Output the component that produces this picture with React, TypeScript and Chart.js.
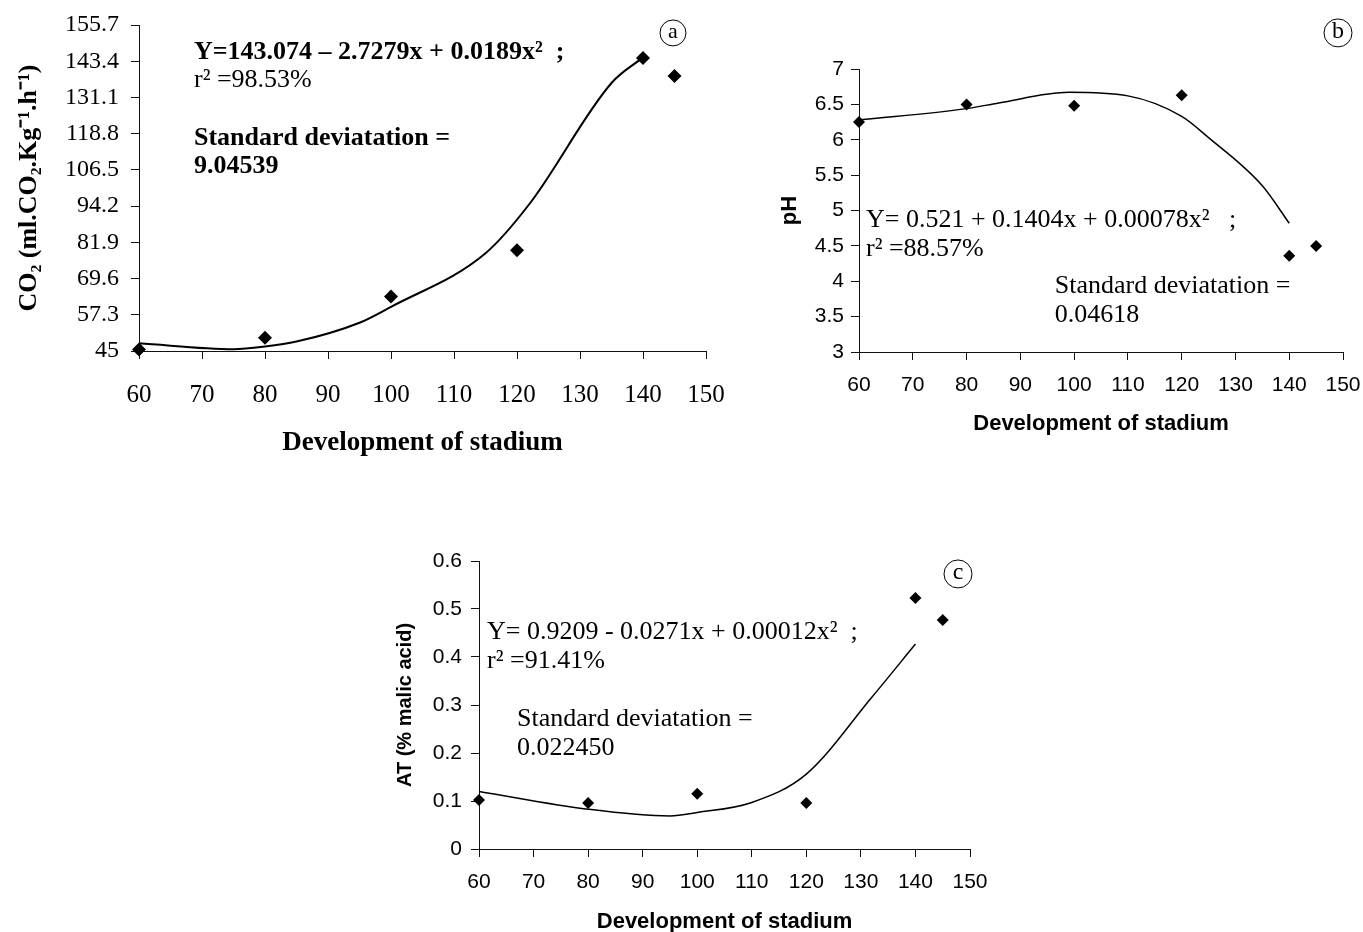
import React, { useEffect, useRef } from 'react';
import { Chart, registerables } from 'chart.js';

Chart.register(...registerables);

// ---------- data ----------
const stages = [60, 80, 100, 120, 140, 145];
const xTickValues = [60, 70, 80, 90, 100, 110, 120, 130, 140, 150];

// (a) CO2
const co2Values = [45.5, 49.5, 63.5, 79.2, 144.5, 138.4];
const co2CurveX = [60, 75, 80, 85, 95, 100, 115, 122, 135, 140];
const co2CurveY = [47.6, 45.6, 46.5, 48.2, 54.6, 60.0, 78.2, 95.0, 136.0, 144.7];
const co2Ticks = [45, 57.3, 69.6, 81.9, 94.2, 106.5, 118.8, 131.1, 143.4, 155.7];
const co2TickLabels = ['45', '57.3', '69.6', '81.9', '94.2', '106.5', '118.8', '131.1', '143.4', '155.7'];

// (b) pH
const phValues = [6.25, 6.5, 6.48, 6.63, 4.36, 4.5];
const phCurveX = [60, 80, 86, 99, 110, 120, 125, 135, 140];
const phCurveY = [6.28, 6.44, 6.52, 6.67, 6.62, 6.33, 6.03, 5.35, 4.82];
const phTicks = [3, 3.5, 4, 4.5, 5, 5.5, 6, 6.5, 7];
const phTickLabels = ['3', '3.5', '4', '4.5', '5', '5.5', '6', '6.5', '7'];

// (c) AT
const atValues = [0.102, 0.096, 0.115, 0.096, 0.523, 0.477];
const atCurveX = [60, 80, 95, 100, 110, 120, 132, 140];
const atCurveY = [0.12, 0.083, 0.069, 0.076, 0.097, 0.156, 0.316, 0.427];
const atTicks = [0, 0.1, 0.2, 0.3, 0.4, 0.5, 0.6];
const atTickLabels = ['0', '0.1', '0.2', '0.3', '0.4', '0.5', '0.6'];

const xTitle = 'Development of stadium';

// ---------- notes plugin ----------
const notesPlugin = {
  id: 'notes',
  afterDraw(chart: any, _args: any, opts: any) {
    const { ctx, scales } = chart;
    const xs = scales.x;
    const ys = scales.y;
    ctx.save();
    ctx.fillStyle = '#000';
    ctx.textAlign = 'left';
    ctx.textBaseline = 'middle';
    for (const n of opts.items || []) {
      ctx.font = n.font;
      ctx.fillText(n.text, xs.getPixelForValue(n.x), ys.getPixelForValue(n.y));
    }
    if (opts.badge) {
      const b = opts.badge;
      const cx = xs.getPixelForValue(b.x);
      const cy = ys.getPixelForValue(b.y);
      ctx.beginPath();
      ctx.arc(cx, cy, b.r, 0, Math.PI * 2);
      ctx.lineWidth = 1;
      ctx.strokeStyle = '#000';
      ctx.stroke();
      ctx.font = b.font;
      ctx.textAlign = 'center';
      ctx.textBaseline = 'middle';
      ctx.fillText(b.text, cx, cy - 1);
    }
    ctx.restore();
  },
};

type Spec = {
  values: number[];
  curveX: number[];
  curveY: number[];
  yTicks: number[];
  yLabels: string[];
  yTitle: string;
  yAxisWidth: number;
  xAxisHeight: number;
  padding: { top: number; right: number; left: number; bottom: number };
  family: string;
  yTickSize: number;
  xTickSize: number;
  yTitleSize: number;
  xTitleSize: number;
  yTitlePad: number;
  xTitlePad: number;
  xTickPad: number;
  yTickPad: number;
  pointRadius: number;
  lineWidth: number;
  notes: any;
};

function buildConfig(s: Spec): any {
  const scatter = stages.map((x, i) => ({ x, y: s.values[i] }));
  const curve = s.curveX.map((x, i) => ({ x, y: s.curveY[i] }));
  const axisColor = '#111';
  return {
    type: 'scatter',
    data: {
      datasets: [
        {
          data: curve,
          showLine: true,
          borderColor: '#000',
          borderWidth: s.lineWidth,
          pointRadius: 0,
          cubicInterpolationMode: 'monotone',
          fill: false,
          clip: false,
        },
        {
          data: scatter,
          pointStyle: 'rectRot',
          pointRadius: s.pointRadius,
          backgroundColor: '#000',
          borderColor: '#000',
          borderWidth: 0,
          showLine: false,
          clip: false,
        },
      ],
    },
    options: {
      responsive: false,
      animation: false,
      events: [],
      layout: { padding: s.padding },
      plugins: {
        legend: { display: false },
        tooltip: { enabled: false },
        notes: s.notes,
      },
      scales: {
        x: {
          type: 'linear',
          min: 60,
          max: 150,
          afterBuildTicks: (sc: any) => {
            sc.ticks = xTickValues.map((v) => ({ value: v }));
          },
          afterFit: (sc: any) => {
            sc.height = s.xAxisHeight;
            sc.paddingLeft = 0;
            sc.paddingRight = 0;
          },
          grid: { drawOnChartArea: false, drawTicks: true, tickLength: 8, color: axisColor },
          border: { display: true, color: axisColor, width: 1 },
          ticks: {
            color: '#000',
            padding: s.xTickPad,
            maxRotation: 0,
            autoSkip: false,
            font: { family: s.family, size: s.xTickSize },
            callback: (v: any) => String(v),
          },
          title: {
            display: true,
            text: xTitle,
            color: '#000',
            padding: { top: 0, bottom: s.xTitlePad },
            font: { family: s.family, size: s.xTitleSize, weight: 'bold' },
          },
        },
        y: {
          type: 'linear',
          min: s.yTicks[0],
          max: s.yTicks[s.yTicks.length - 1],
          afterBuildTicks: (sc: any) => {
            sc.ticks = s.yTicks.map((v) => ({ value: v }));
          },
          afterFit: (sc: any) => {
            sc.width = s.yAxisWidth;
            sc.paddingTop = 0;
            sc.paddingBottom = 0;
          },
          grid: { drawOnChartArea: false, drawTicks: true, tickLength: 8, color: axisColor },
          border: { display: true, color: axisColor, width: 1 },
          ticks: {
            color: '#000',
            padding: s.yTickPad,
            autoSkip: false,
            font: { family: s.family, size: s.yTickSize },
            callback: (_v: any, i: number) => s.yLabels[i],
          },
          title: {
            display: true,
            text: s.yTitle,
            color: '#000',
            padding: { top: s.yTitlePad, bottom: 0 },
            font: { family: s.family, size: s.yTitleSize, weight: 'bold' },
          },
        },
      },
    },
    plugins: [notesPlugin],
  };
}

const serif = "'Liberation Serif', 'Times New Roman', serif";
const sans = "'Liberation Sans', Arial, sans-serif";

const specA: Spec = {
  values: co2Values,
  curveX: co2CurveX,
  curveY: co2CurveY,
  yTicks: co2Ticks,
  yLabels: co2TickLabels,
  yTitle: 'CO₂ (ml.CO₂.Kg⁻¹.h⁻¹)',
  yAxisWidth: 139,
  xAxisHeight: 119,
  padding: { top: 25, right: 34, left: 0, bottom: 0 },
  family: serif,
  yTickSize: 24,
  xTickSize: 25,
  yTitleSize: 26,
  xTitleSize: 27,
  yTitlePad: 14,
  xTitlePad: 11,
  xTickPad: 21,
  yTickPad: 12,
  pointRadius: 7,
  lineWidth: 2,
  notes: {
    items: [
      { text: 'Y=143.074 – 2.7279x + 0.0189x²  ;', x: 68.73, y: 146.5, font: `bold 26px ${serif}` },
      { text: 'r² =98.53%', x: 68.73, y: 137.0, font: `26px ${serif}` },
      { text: 'Standard deviatation =', x: 68.73, y: 117.3, font: `bold 26px ${serif}` },
      { text: '9.04539', x: 68.73, y: 107.8, font: `bold 26px ${serif}` },
    ],
    badge: { text: 'a', x: 144.76, y: 153.0, r: 13, font: `22px ${serif}` },
  },
};

const specB: Spec = {
  values: phValues,
  curveX: phCurveX,
  curveY: phCurveY,
  yTicks: phTicks,
  yLabels: phTickLabels,
  yTitle: 'pH',
  yAxisWidth: 99,
  xAxisHeight: 98,
  padding: { top: 69, right: 20, left: 0, bottom: 0 },
  family: sans,
  yTickSize: 21,
  xTickSize: 21,
  yTitleSize: 22,
  xTitleSize: 22,
  yTitlePad: 17,
  xTitlePad: 13,
  xTickPad: 13,
  yTickPad: 7,
  pointRadius: 6,
  lineWidth: 1.5,
  notes: {
    items: [
      { text: 'Y= 0.521 + 0.1404x + 0.00078x²   ;', x: 61.3, y: 4.866, font: `26px ${serif}` },
      { text: 'r² =88.57%', x: 61.3, y: 4.456, font: `26px ${serif}` },
      { text: 'Standard deviatation =', x: 96.4, y: 3.933, font: `26px ${serif}` },
      { text: '0.04618', x: 96.4, y: 3.523, font: `26px ${serif}` },
    ],
    badge: { text: 'b', x: 149.07, y: 7.51, r: 14, font: `24px ${serif}` },
  },
};

const specC: Spec = {
  values: atValues,
  curveX: atCurveX,
  curveY: atCurveY,
  yTicks: atTicks,
  yLabels: atTickLabels,
  yTitle: 'AT (% malic acid)',
  yAxisWidth: 99,
  xAxisHeight: 91,
  padding: { top: 21, right: 30, left: 0, bottom: 0 },
  family: sans,
  yTickSize: 21,
  xTickSize: 21,
  yTitleSize: 20,
  xTitleSize: 22,
  yTitlePad: 13,
  xTitlePad: 5,
  xTickPad: 13,
  yTickPad: 9,
  pointRadius: 6,
  lineWidth: 1.5,
  notes: {
    items: [
      { text: 'Y= 0.9209 - 0.0271x + 0.00012x²  ;', x: 61.47, y: 0.452, font: `26px ${serif}` },
      { text: 'r² =91.41%', x: 61.47, y: 0.392, font: `26px ${serif}` },
      { text: 'Standard deviatation =', x: 66.96, y: 0.271, font: `26px ${serif}` },
      { text: '0.022450', x: 66.96, y: 0.21, font: `26px ${serif}` },
    ],
    badge: { text: 'c', x: 147.8, y: 0.573, r: 14, font: `24px ${serif}` },
  },
};

function Panel({ spec, left, top, width, height }: { spec: Spec; left: number; top: number; width: number; height: number }) {
  const ref = useRef<HTMLCanvasElement | null>(null);
  useEffect(() => {
    if (!ref.current) return;
    const chart = new Chart(ref.current, buildConfig(spec));
    return () => chart.destroy();
  }, [spec]);
  return (
    <div style={{ position: 'absolute', left, top, width, height }}>
      <canvas ref={ref} width={width} height={height} style={{ display: 'block', width, height }} />
    </div>
  );
}

export default function App() {
  return (
    <div
      style={{
        position: 'absolute',
        left: 0,
        top: 0,
        width: 1363,
        height: 932,
        overflow: 'hidden',
        background: '#fff',
      }}
    >
      <Panel spec={specA} left={0} top={0} width={740} height={470} />
      <Panel spec={specB} left={760} top={0} width={603} height={450} />
      <Panel spec={specC} left={380} top={540} width={620} height={400} />
    </div>
  );
}
